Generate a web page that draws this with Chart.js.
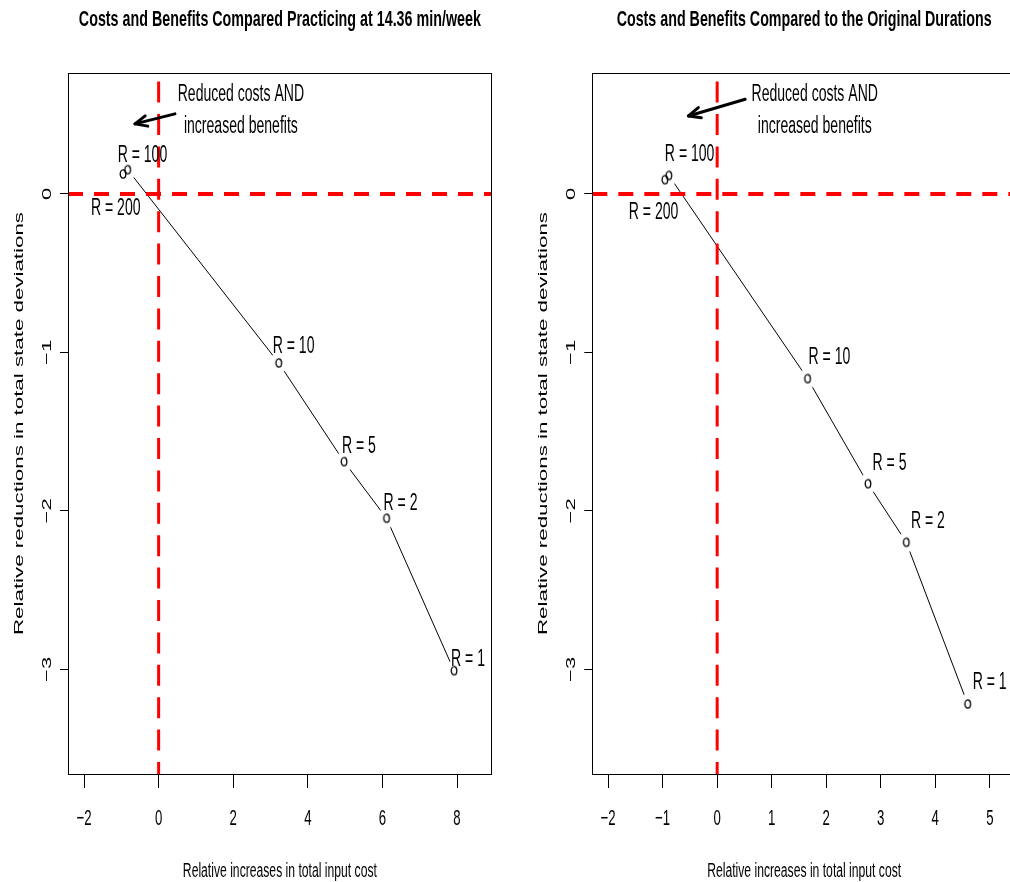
<!DOCTYPE html>
<html><head><meta charset="utf-8">
<script src="https://cdn.jsdelivr.net/npm/chart.js@4.4.0/dist/chart.umd.min.js"></script>
<style>
html,body{margin:0;padding:0;background:#fff;width:1010px;height:882px;overflow:hidden;position:relative;}
canvas{position:absolute;top:0;}
#cL{left:0px}
#cR{left:505px}
</style></head><body>
<canvas id="cL" width="505" height="882"></canvas>
<canvas id="cR" width="525" height="882"></canvas>
<script>
// ---------- data ----------
const rLabels = ['R = 200', 'R = 100', 'R = 10', 'R = 5', 'R = 2', 'R = 1'];
const costLeft = [-0.956, -0.83, 3.22, 4.97, 6.11, 7.92];
const benefitLeft = [0.126, 0.153, -1.066, -1.689, -2.046, -3.008];
const costRight = [-0.96, -0.886, 1.657, 2.765, 3.468, 4.593];
const benefitRight = [0.090, 0.117, -1.165, -1.828, -2.198, -3.218];
const xTicksLeft = [-2, 0, 2, 4, 6, 8];
const xTicksRight = [-2, -1, 0, 1, 2, 3, 4, 5];
const yTicks = [-3, -2, -1, 0];
const xLimLeft = [-2.43, 8.93];
const xLimRight = [-2.29, 5.48];
const yLim = [-3.66, 0.763];
const refX = 0, refY = 0;
const titleLeft = 'Costs and Benefits Compared Practicing at 14.36 min/week';
const titleRight = 'Costs and Benefits Compared to the Original Durations';
const xTitle = 'Relative increases in total input cost';
const yTitle = 'Relative reductions in total state deviations';
const noteLines = ['Reduced costs AND', 'increased benefits'];
const noteLeft = {x: 2.205, y: 0.536};
const noteRight = {x: 1.789, y: 0.536};
const arrowLeft = {from: [0.437, 0.505], to: [-0.635, 0.442]};
const arrowRight = {from: [0.514, 0.597], to: [-0.527, 0.492]};

// ---------- styling ----------
const FONT = '"Liberation Sans", Arial, Helvetica, sans-serif';
const SX = 0.61;   // horizontal compression of the reference text
const labelOffsetsLeft = [[-32, 33], [-10, -16], [-6, -18], [-2, -17], [-3, -16], [-3, -13]];
const labelOffsetsRight = [[-36, 31], [-4, -23], [1, -23], [4.6, -22], [4.7, -22], [5, -23]];

function fmt(v) { return v < 0 ? '\u2212' + Math.abs(v) : String(v); }

function drawText(ctx, s, x, y, o) {
  ctx.save();
  ctx.translate(x, y);
  if (o.rot) ctx.rotate(o.rot);
  ctx.font = o.font;
  ctx.textAlign = o.align || 'center';
  ctx.textBaseline = o.base || 'alphabetic';
  let sx = o.sx || 1, sy = o.sy || 1;
  if (o.fitW) sx = o.fitW / ctx.measureText(s).width;
  ctx.scale(sx, sy);
  ctx.fillStyle = '#000';
  ctx.fillText(s, 0, 0);
  ctx.restore();
}

function al(p) { return Math.round(p - 0.5) + 0.5; }

// point glyphs
const haloImg = document.createElement('canvas');
haloImg.width = 22; haloImg.height = 22;
(function () { const c = haloImg.getContext('2d'); c.fillStyle = '#fff'; c.beginPath(); c.arc(11, 11, 10, 0, Math.PI * 2); c.fill(); })();
const oImg = document.createElement('canvas');
oImg.width = 10; oImg.height = 12;
(function () { const c = oImg.getContext('2d'); c.strokeStyle = '#000'; c.lineWidth = 1.3; c.beginPath(); c.ellipse(5, 6, 2.8, 4.2, 0, 0, Math.PI * 2); c.stroke(); })();

const panelPlugin = {
  id: 'panel',
  afterDraw(chart, args, o) {
    const ctx = chart.ctx, a = chart.chartArea, xs = chart.scales.x, ys = chart.scales.y;
    ctx.save();
    // box
    ctx.strokeStyle = '#000'; ctx.lineWidth = 1;
    ctx.strokeRect(al(a.left), al(a.top), al(a.right) - al(a.left), al(a.bottom) - al(a.top));
    const cx = (a.left + a.right) / 2, cy = (a.top + a.bottom) / 2;
    // title
    drawText(ctx, o.title, cx, 26, {font: 'bold 22px ' + FONT, fitW: o.titleW});
    // x tick labels
    xs.ticks.forEach(t => {
      drawText(ctx, fmt(t.value), xs.getPixelForValue(t.value), a.bottom + 51, {font: '22px ' + FONT, sx: 0.6});
    });
    // x title
    drawText(ctx, xTitle, cx, a.bottom + 103, {font: '20px ' + FONT, fitW: 194});
    // y tick labels (rotated)
    ys.ticks.forEach(t => {
      drawText(ctx, fmt(t.value), a.left - 17, ys.getPixelForValue(t.value), {font: '22px ' + FONT, rot: -Math.PI / 2, sy: SX});
    });
    // y title
    drawText(ctx, yTitle, a.left - 45, cy, {font: '21px ' + FONT, rot: -Math.PI / 2, sy: SX, fitW: 423});
    // point labels
    o.costs.forEach((c, i) => {
      const px = xs.getPixelForValue(c), py = ys.getPixelForValue(o.benefits[i]);
      const off = o.offsets[i];
      drawText(ctx, rLabels[i], px + off[0], py + off[1] + 8.2, {font: '23px ' + FONT, sx: SX, align: 'left'});
    });
    // note
    const nx = xs.getPixelForValue(o.note.x), ny = ys.getPixelForValue(o.note.y);
    drawText(ctx, noteLines[0], nx, ny - 16 + 8.2, {font: '23px ' + FONT, sx: SX});
    drawText(ctx, noteLines[1], nx, ny + 16 + 8.2, {font: '23px ' + FONT, sx: SX});
    // arrow
    const x0 = xs.getPixelForValue(o.arrow.from[0]), y0 = ys.getPixelForValue(o.arrow.from[1]);
    const x1 = xs.getPixelForValue(o.arrow.to[0]), y1 = ys.getPixelForValue(o.arrow.to[1]);
    const ang = Math.atan2(y1 - y0, x1 - x0), hl = 13, sp = 0.42;
    ctx.strokeStyle = '#000'; ctx.lineWidth = 3; ctx.lineCap = 'round'; ctx.lineJoin = 'round';
    ctx.beginPath(); ctx.moveTo(x0, y0); ctx.lineTo(x1, y1); ctx.stroke();
    ctx.beginPath();
    ctx.moveTo(x1 - hl * Math.cos(ang - sp), y1 - hl * Math.sin(ang - sp));
    ctx.lineTo(x1, y1);
    ctx.lineTo(x1 - hl * Math.cos(ang + sp), y1 - hl * Math.sin(ang + sp));
    ctx.stroke();
    ctx.restore();
  }
};

function makePanel(id, costs, benefits, xLim, xTicks, title, titleW, offsets, note, arrow, yAxisW, padRight) {
  const pts = costs.map((c, i) => ({x: c, y: benefits[i]}));
  return new Chart(document.getElementById(id), {
    type: 'line',
    data: {
      datasets: [
        {data: [{x: refX, y: yLim[0]}, {x: refX, y: yLim[1]}], borderColor: '#ff0000', borderWidth: 3,
         borderDash: [21, 11.4], borderDashOffset: 9, borderCapStyle: 'butt', pointRadius: 0},
        {data: [{x: xLim[0], y: refY}, {x: xLim[1], y: refY}], borderColor: '#ff0000', borderWidth: 4,
         borderDash: [15, 11], borderCapStyle: 'butt', pointRadius: 0},
        {data: pts, showLine: false, pointStyle: oImg, pointRadius: 5},
        {data: pts, borderColor: '#000', borderWidth: 1, tension: 0, pointStyle: haloImg, pointRadius: 10}
      ]
    },
    options: {
      responsive: false, animation: false, devicePixelRatio: 1, events: [],
      layout: {padding: {top: 73, right: padRight, left: 0, bottom: 0}},
      plugins: {
        legend: {display: false}, tooltip: {enabled: false},
        panel: {title, titleW, costs, benefits, offsets, note, arrow}
      },
      scales: {
        x: {
          type: 'linear', min: xLim[0], max: xLim[1],
          afterBuildTicks: s => { s.ticks = xTicks.map(v => ({value: v})); },
          afterFit: s => { s.height = 108; },
          grid: {drawOnChartArea: false, drawTicks: true, tickLength: 14, tickColor: '#000', tickWidth: 1},
          border: {display: true, color: '#000', width: 1},
          ticks: {display: false}
        },
        y: {
          type: 'linear', min: yLim[0], max: yLim[1],
          afterBuildTicks: s => { s.ticks = yTicks.map(v => ({value: v})); },
          afterFit: s => { s.width = yAxisW; },
          grid: {drawOnChartArea: false, drawTicks: true, tickLength: 8, tickColor: '#000', tickWidth: 1},
          border: {display: true, color: '#000', width: 1},
          ticks: {display: false}
        }
      }
    },
    plugins: [panelPlugin]
  });
}

makePanel('cL', costLeft, benefitLeft, xLimLeft, xTicksLeft, titleLeft, 402, labelOffsetsLeft, noteLeft, arrowLeft, 68, 13.3);
makePanel('cR', costRight, benefitRight, xLimRight, xTicksRight, titleRight, 375, labelOffsetsRight, noteRight, arrowRight, 87.3, 14);
</script>
</body></html>
